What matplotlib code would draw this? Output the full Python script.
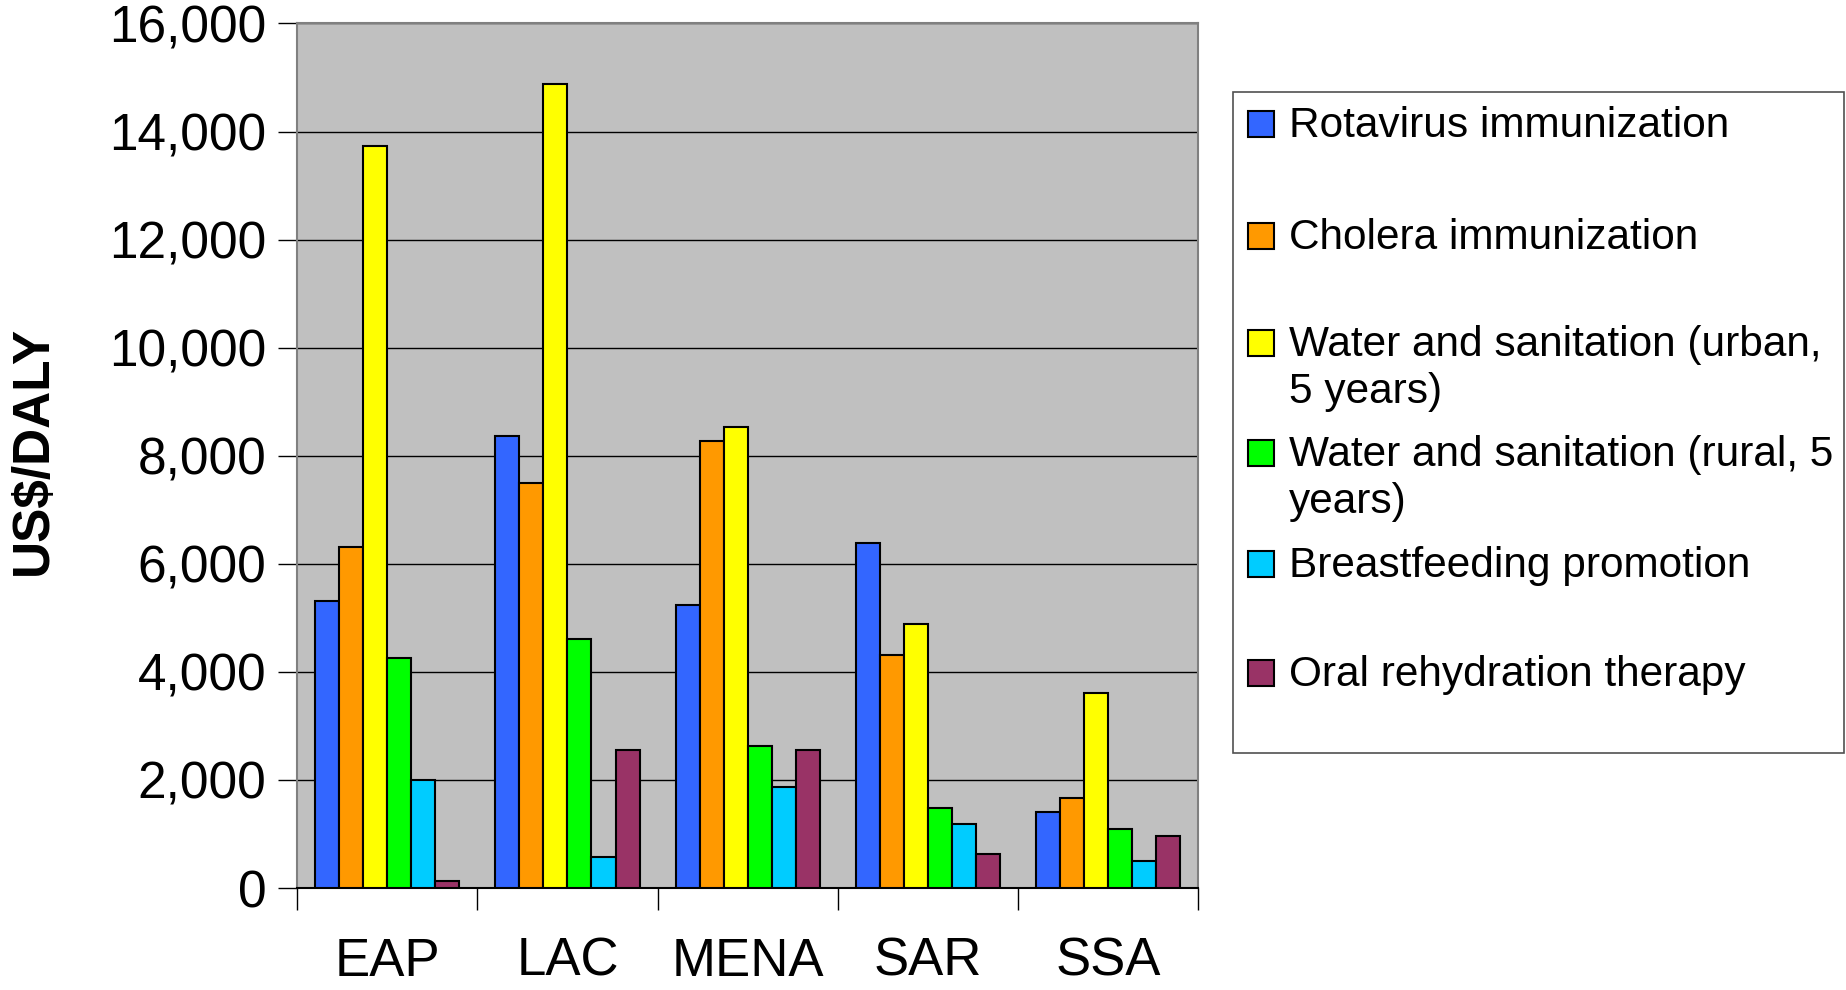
import numpy as np
import matplotlib.pyplot as plt
from matplotlib.patches import Rectangle
from matplotlib.ticker import FuncFormatter

plt.rcParams['font.family'] = ['Liberation Sans', 'DejaVu Sans']

# data
regions = ['EAP', 'LAC', 'MENA', 'SAR', 'SSA']
series = ['Rotavirus immunization', 'Cholera immunization',
          'Water and sanitation (urban,\n5 years)',
          'Water and sanitation (rural, 5\nyears)',
          'Breastfeeding promotion', 'Oral rehydration therapy']
rotavirus = [5320, 8360, 5230, 6390, 1400]
cholera = [6310, 7500, 8270, 4310, 1660]
water_urban = [13740, 14880, 8530, 4890, 3610]
water_rural = [4260, 4600, 2630, 1490, 1090]
breastfeeding = [2000, 580, 1870, 1190, 500]
ort = [130, 2560, 2560, 630, 970]

colors = ['#3366FF', '#FF9900', '#FFFF00', '#00FF00', '#00CCFF', '#993366']
values = [rotavirus, cholera, water_urban, water_rural, breastfeeding, ort]

fig = plt.figure(figsize=(18.46, 9.9), dpi=100)
ax = fig.add_axes([0.1609, 0.1030, 0.4883, 0.8733])
ax.set_facecolor('#C0C0C0')

w = 0.8 / 6
x = np.arange(len(regions))
for j, (vals, c) in enumerate(zip(values, colors)):
    ax.bar(x + 0.1 + j * w, vals, width=w, align='edge', color=c,
           edgecolor='black', linewidth=1.5, zorder=3)

ax.set_xlim(0, 5)
ax.set_ylim(0, 16000)
ax.set_yticks(np.arange(0, 16001, 2000))
ax.yaxis.set_major_formatter(FuncFormatter(lambda v, p: f'{int(v):,}'))
ax.tick_params(axis='y', labelsize=37, length=14, width=1, direction='out', pad=8)
ax.grid(axis='y', color='black', linewidth=1, zorder=1)

ax.set_xticks(np.arange(0, 6))
ax.set_xticklabels([])
ax.set_xticks(x + 0.5, minor=True)
ax.set_xticklabels(regions, minor=True)
ax.tick_params(axis='x', which='major', length=16, width=1, direction='out')
ax.tick_params(axis='x', which='minor', length=0, labelsize=38, pad=35)

for s in ['top', 'right', 'left']:
    ax.spines[s].set_color('#808080')
    ax.spines[s].set_linewidth(1.5)
ax.spines['bottom'].set_color('black')
ax.spines['bottom'].set_linewidth(1.5)

fig.text(0.018, 0.545, 'US$/DALY', rotation=90, fontsize=37, fontweight='bold',
         ha='center', va='center')

# legend box drawn by hand so wrapped labels line up like the original
W, H = 1846, 990
fig.add_artist(Rectangle((1233 / W, 1 - 753 / H), 611 / W, 661 / H,
                         transform=fig.transFigure, facecolor='white',
                         edgecolor='#505050', linewidth=1.2))
first_line_y = [124, 236, 343, 453, 564, 673]
for lbl, c, yy in zip(series, colors, first_line_y):
    fig.add_artist(Rectangle((1248 / W, 1 - (yy + 13) / H), 26 / W, 26 / H,
                             transform=fig.transFigure, facecolor=c,
                             edgecolor='black', linewidth=1.5))
    fig.text(1289 / W, 1 - (yy - 18) / H, lbl, fontsize=30.5, ha='left', va='top',
             linespacing=1.22)

fig.savefig('out.png', dpi=100)
